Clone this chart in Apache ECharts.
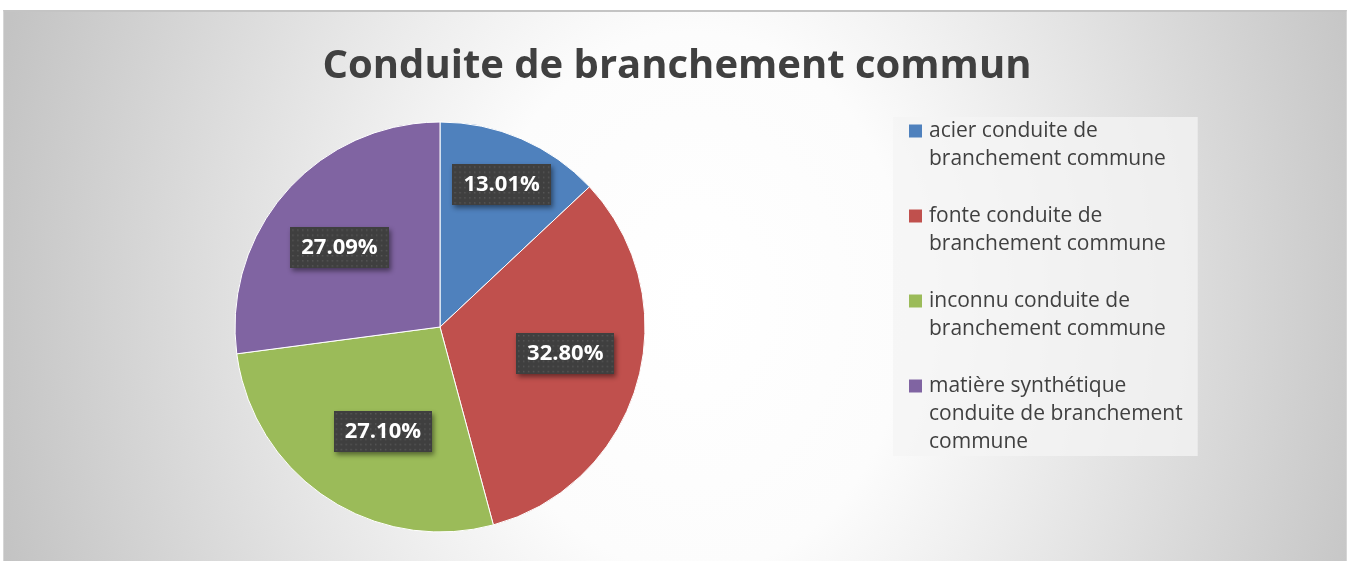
<!DOCTYPE html>
<html>
<head>
<meta charset="utf-8">
<script src="https://cdn.jsdelivr.net/npm/echarts@6/dist/echarts.min.js"></script>
<style>
  html, body { margin: 0; padding: 0; background: #ffffff; }
  #frame {
    position: absolute; left: 3px; top: 10px; width: 1342px; height: 551px;
    border-top: 2px solid #c4c4c4; border-left: 1px solid #d6d6d6; border-right: 1px solid #d6d6d6;
    background: radial-gradient(ellipse 720px 900px at 690px 290px, #ffffff 0%, #fcfcfc 30%, #c3c3c3 100%);
  }
  #chart { position: absolute; left: 0; top: 0; width: 1354px; height: 561px; }
</style>
</head>
<body>
<div id="frame"></div>
<div id="chart"></div>
<script>
const titleText = 'Conduite de branchement commun';
const categories = [
  'acier conduite de branchement commune',
  'fonte conduite de branchement commune',
  'inconnu conduite de branchement commune',
  'matière synthétique conduite de branchement commune'
];
const legendLines = [
  ['acier conduite de', 'branchement commune'],
  ['fonte conduite de', 'branchement commune'],
  ['inconnu conduite de', 'branchement commune'],
  ['matière synthétique', 'conduite de branchement', 'commune']
];
const values = [13.01, 32.80, 27.10, 27.09];
const colors = ['#4f81bd', '#c0504d', '#9bbb59', '#8064a2'];

// layout constants (label placement, in polar terms relative to each slice's mid-angle)
const CX = 440, CY = 327, R = 205;
const labelRadius = [155, 128, 119, 128];
const labelAngleShift = [0, -4, -5, -3]; // degrees, clockwise positive

function makePattern(w, h) {
  const c = document.createElement('canvas');
  c.width = w; c.height = h;
  const g = c.getContext('2d');
  g.fillStyle = '#3f3f3f';
  g.fillRect(0, 0, w, h);
  g.fillStyle = '#575757';
  for (let y = 2; y < h; y += 5) {
    for (let x = 2; x < w; x += 5) {
      g.fillRect(x, y, 1.5, 1.5);
    }
  }
  return c;
}
const pattern = makePattern(100, 40);

const rich = {
  t: { fontFamily: 'Open Sans', fontSize: 21, color: '#404040', lineHeight: 28, padding: [0, 0, 0, 7] },
  s: { width: 13, height: 13 }
};
colors.forEach((c, i) => { rich['m' + i] = { width: 13, height: 13, backgroundColor: c }; });

const total = values.reduce((a, b) => a + b, 0);

const chart = echarts.init(document.getElementById('chart'), null, { renderer: 'canvas' });
chart.setOption({
  backgroundColor: 'transparent',
  animation: false,
  color: colors,
  title: {
    text: titleText,
    left: 'center',
    top: 36,
    textStyle: { fontFamily: 'Open Sans', fontWeight: 'bold', fontSize: 40, color: '#404040', lineHeight: 52 }
  },
  legend: {
    orient: 'vertical',
    left: 893,
    top: 117,
    icon: 'none',
    itemWidth: 0,
    itemHeight: 0,
    itemGap: 29,
    padding: [0, 15, 0, 11],
    backgroundColor: 'rgba(244,244,244,0.75)',
    data: categories,
    formatter: function (name) {
      const i = categories.indexOf(name);
      const lines = legendLines[i];
      let s = '{m' + i + '|}{t|' + lines[0] + '}';
      for (let k = 1; k < lines.length; k++) s += '\n{s|}{t|' + lines[k] + '}';
      return s;
    },
    textStyle: { rich: rich, lineHeight: 28 }
  },
  series: [{
    type: 'pie',
    center: [CX, CY],
    radius: R,
    startAngle: 90,
    clockwise: true,
    data: categories.map((n, i) => ({ name: n, value: values[i] })),
    itemStyle: { borderColor: '#ffffff', borderWidth: 1 },
    label: {
      position: 'inside',
      formatter: p => p.value.toFixed(2) + '%',
      fontFamily: 'Open Sans',
      fontWeight: 'bold',
      fontSize: 22,
      color: '#ffffff',
      backgroundColor: { image: pattern },
      padding: [10, 11, 9, 11],
      shadowColor: 'rgba(0,0,0,0.45)',
      shadowBlur: 5,
      shadowOffsetX: 2,
      shadowOffsetY: 3
    },
    labelLine: { show: false },
    emphasis: { scale: false },
    labelLayout: function (params) {
      const i = params.dataIndex;
      const r = params.labelRect;
      const lx = r.x + r.width / 2, ly = r.y + r.height / 2;
      // mid-angle of the slice from the data
      let before = 0;
      for (let k = 0; k < i; k++) before += values[k];
      const mid = (before + values[i] / 2) / total * 360 + labelAngleShift[i];
      const a = mid * Math.PI / 180;
      const tx = CX + labelRadius[i] * Math.sin(a);
      const ty = CY - labelRadius[i] * Math.cos(a);
      return { dx: tx - lx, dy: ty - ly };
    }
  }]
});
</script>
</body>
</html>
